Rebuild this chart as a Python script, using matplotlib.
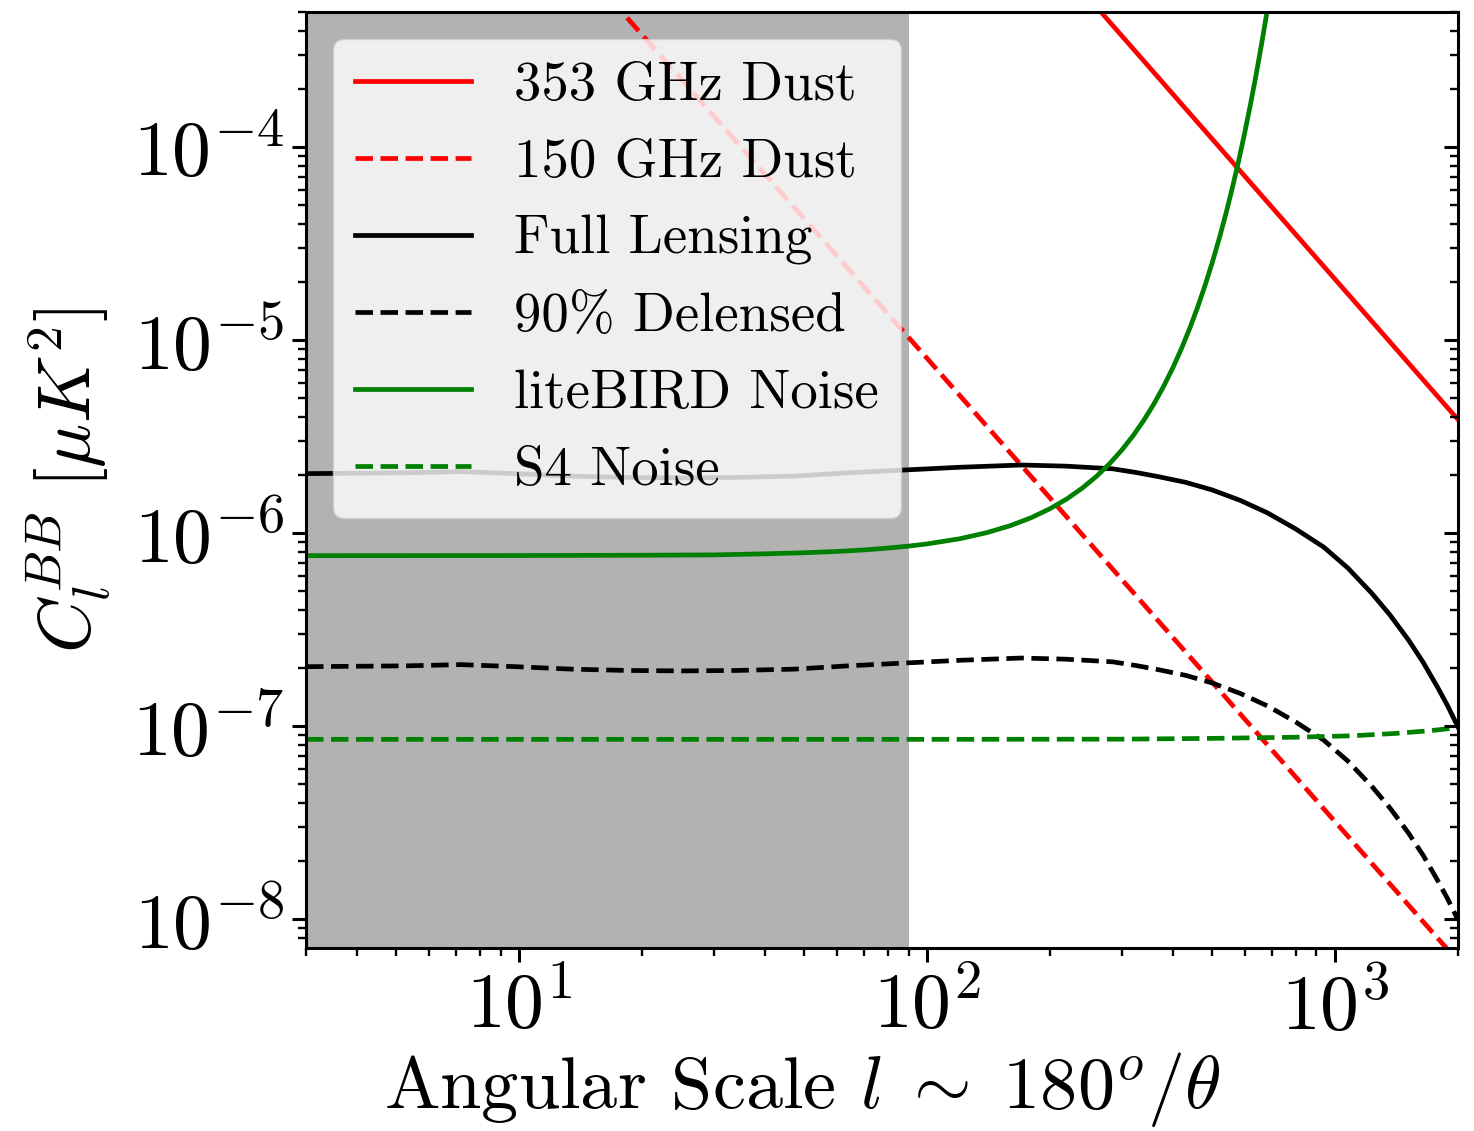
import matplotlib
matplotlib.use("Agg")
import matplotlib.pyplot as plt

plt.rcParams['font.family'] = ['cmr10', 'DejaVu Serif']
plt.rcParams['mathtext.fontset'] = 'cm'
plt.rcParams['axes.unicode_minus'] = False
plt.rcParams['axes.formatter.use_mathtext'] = True

# ---------------- data ----------------
dust353_l = [200, 2000]
dust353_c = [1.0e-3, 3.87e-6]

dust150_l = [15, 2000]
dust150_c = [7.6e-4, 6.05e-9]

lens_l = [3, 5.3, 7.2, 9.8, 13.5, 18.4, 25, 34, 47, 64, 88, 120, 170, 218, 285,
          324, 368, 430, 500, 585, 683, 800, 937, 1074, 1228, 1363, 1513, 1643,
          1782, 1888, 2000]
lens_full = [2.03e-6, 2.05e-6, 2.08e-6, 2.03e-6, 1.97e-6, 1.94e-6, 1.93e-6, 1.94e-6,
             1.97e-6, 2.05e-6, 2.12e-6, 2.19e-6, 2.25e-6, 2.22e-6, 2.15e-6,
             2.06e-6, 1.96e-6, 1.83e-6, 1.67e-6, 1.476e-6, 1.27e-6, 1.05e-6,
             8.46e-7, 6.59e-7, 4.89e-7, 3.76e-7, 2.79e-7, 2.14e-7,
             1.59e-7, 1.27e-7, 9.9e-8]
lens_delensed = [2.03e-7, 2.05e-7, 2.08e-7, 2.03e-7, 1.97e-7, 1.94e-7, 1.93e-7, 1.94e-7,
                 1.97e-7, 2.05e-7, 2.12e-7, 2.19e-7, 2.25e-7, 2.22e-7, 2.15e-7,
                 2.06e-7, 1.96e-7, 1.83e-7, 1.67e-7, 1.476e-7, 1.27e-7, 1.05e-7,
                 8.46e-8, 6.59e-8, 4.89e-8, 3.76e-8, 2.79e-8, 2.14e-8,
                 1.59e-8, 1.27e-8, 9.9e-9]

litebird_l = [3, 10, 20, 30, 40, 50, 60, 70, 80, 90, 100, 120, 140, 160, 180, 200,
              220, 240, 260, 280, 300, 320, 340, 360, 380, 400, 420, 440, 460, 480,
              500, 520, 540, 560, 580, 600, 620, 640, 660, 680, 700]
litebird_c = [7.63e-7, 7.64e-7, 7.67e-7, 7.7e-7, 7.8e-7, 7.9e-7, 8.02e-7, 8.17e-7,
              8.35e-7, 8.55e-7, 8.78e-7, 9.33e-7, 1.004e-6, 1.092e-6, 1.201e-6,
              1.336e-6, 1.502e-6, 1.709e-6, 1.966e-6, 2.287e-6, 2.69e-6, 3.2e-6,
              3.849e-6, 4.683e-6, 5.761e-6, 7.167e-6, 9.02e-6, 1.147e-5, 1.476e-5,
              1.921e-5, 2.527e-5, 3.363e-5, 4.525e-5, 6.16e-5, 8.47e-5, 1.179e-4,
              1.659e-4, 2.36e-4, 3.4e-4, 4.94e-4, 7.27e-4]

s4_l = [3, 100, 300, 500, 800, 1100, 1400, 1700, 2000]
s4_c = [8.53e-8, 8.53e-8, 8.55e-8, 8.63e-8, 8.75e-8, 8.9e-8, 9.15e-8, 9.45e-8, 9.8e-8]

shade_lmax = 90

labels = ['353 GHz Dust', '150 GHz Dust', 'Full Lensing', '90% Delensed',
          'liteBIRD Noise', 'S4 Noise']

x_ticks = [10, 100, 1000]
x_tick_labels = [r'$10^{1}$', r'$10^{2}$', r'$10^{3}$']
y_ticks = [1e-8, 1e-7, 1e-6, 1e-5, 1e-4]
y_tick_labels = [r'$10^{-8}$', r'$10^{-7}$', r'$10^{-6}$', r'$10^{-5}$', r'$10^{-4}$']

xlim = (3, 2000)
ylim = (7.08e-9, 5.0e-4)

# ---------------- figure ----------------
fig = plt.figure(figsize=(14.74, 11.31), dpi=100)
ax = fig.add_axes([0.2076, 0.1618, 0.7815, 0.8276])

lw = 3.4
ax.axvspan(xlim[0], shade_lmax, color='gray', alpha=0.6, lw=0, zorder=0)
ax.plot(dust353_l, dust353_c, color='r', ls='-', lw=lw, label=labels[0])
ax.plot(dust150_l, dust150_c, color='r', ls='--', lw=lw, label=labels[1])
ax.plot(lens_l, lens_full, color='k', ls='-', lw=lw, label=labels[2])
ax.plot(lens_l, lens_delensed, color='k', ls='--', lw=lw, label=labels[3])
ax.plot(litebird_l, litebird_c, color='g', ls='-', lw=lw, label=labels[4])
ax.plot(s4_l, s4_c, color='g', ls='--', lw=lw, label=labels[5])

ax.set_xscale('log')
ax.set_yscale('log')
ax.set_xlim(*xlim)
ax.set_ylim(*ylim)
ax.set_xticks(x_ticks)
ax.set_xticklabels(x_tick_labels)
ax.set_yticks(y_ticks)
ax.set_yticklabels(y_tick_labels)

for sp in ax.spines.values():
    sp.set_linewidth(2.2)
ax.tick_params(which='major', length=9.8, width=2.2, labelsize=56, pad=6)
ax.tick_params(which='minor', length=5.6, width=1.7)

ax2 = ax.twinx()
ax2.set_yscale('log')
ax2.set_ylim(*ylim)
ax2.set_yticks(y_ticks)
ax2.tick_params(which='both', direction='in', labelright=False)
ax2.tick_params(which='major', length=9.8, width=2.2)
ax2.tick_params(which='minor', length=5.6, width=1.7)
for sp in ax2.spines.values():
    sp.set_visible(False)

ax.set_xlabel(r'Angular Scale $l\;\sim\;180^o/\theta$', fontsize=53.5)
ax.xaxis.set_label_coords(0.4306, -0.109, transform=ax.transAxes)
ax.xaxis.label.set_verticalalignment('top')
ax.set_ylabel(r'$C_l^{BB}\ [\mu K^2]$', fontsize=53, labelpad=14)

leg = ax.legend(loc='upper left', fontsize=39.5, handlelength=2.1)
leg.set_zorder(5)

fig.savefig('out.png', dpi=100)
